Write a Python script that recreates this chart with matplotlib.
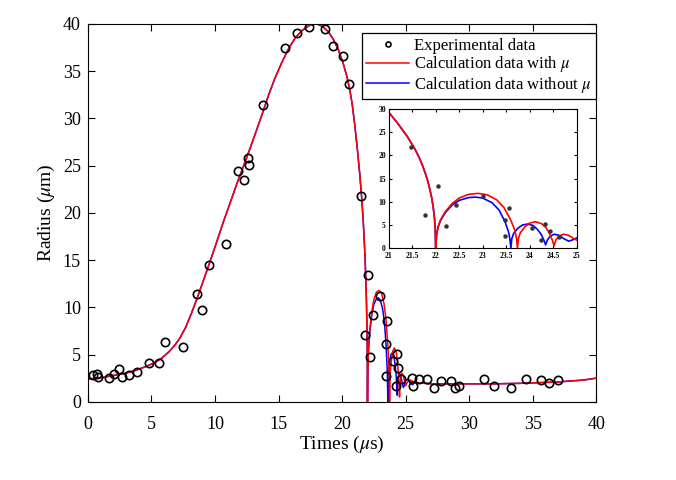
import matplotlib
matplotlib.use("Agg")
import matplotlib.pyplot as plt

plt.rcParams['font.family'] = ['Liberation Serif', 'DejaVu Serif']
plt.rcParams['mathtext.fontset'] = 'stix'

# Experimental data (time in us, radius in um)
exp_t = [0.37, 0.68, 0.81, 1.65, 2.05, 2.41, 2.68, 3.2, 3.86, 4.8, 5.62, 6.1, 7.45,
         8.58, 8.98, 9.55, 10.84, 11.81, 12.28, 12.57, 12.68, 13.78, 15.51, 16.48,
         17.43, 18.66, 19.32, 20.08, 20.55, 21.47, 21.77, 22.05, 22.23, 22.43, 23.0,
         23.48, 23.48, 23.57, 24.04, 24.24, 24.33, 24.43, 24.62, 25.48, 25.6, 26.09,
         26.67, 27.24, 27.8, 28.56, 28.85, 29.2, 31.2, 31.97, 33.31, 34.46, 35.67,
         36.25, 37.0]
exp_r = [2.8, 2.97, 2.62, 2.52, 2.94, 3.43, 2.66, 2.8, 3.18, 4.06, 4.06, 6.33, 5.84,
         11.41, 9.76, 14.45, 16.73, 24.46, 23.45, 25.76, 25.1, 31.43, 37.5, 39.0,
         39.65, 39.44, 37.66, 36.64, 33.6, 21.8, 7.1, 13.4, 4.7, 9.2, 11.2,
         6.1, 2.7, 8.6, 4.3, 1.7, 5.1, 3.6, 2.4, 2.56, 1.71, 2.38,
         2.41, 1.5, 2.17, 2.17, 1.5, 1.64, 2.41, 1.64, 1.5, 2.41, 2.27,
         2.03, 2.27]

# Growth and first collapse (shared by both calculations)
grow_t = [0, 0.7, 1.3, 2.1, 2.9, 3.7, 4.5, 5.2, 5.8, 6.35, 6.85, 7.24, 7.7, 8.1,
          8.58, 9.08, 9.6, 10.13, 10.65, 11.18, 11.7, 12.23, 12.7, 13.15, 13.7,
          14.2, 14.7, 15.25, 15.8, 16.3, 16.85, 17.35, 17.8, 18.13, 18.5, 18.9,
          19.3, 19.7, 20.05, 20.37, 20.6, 20.8, 21.0, 21.2, 21.4, 21.55, 21.65,
          21.72, 21.78, 21.83, 21.88, 21.92, 21.95, 21.975, 21.99, 22.0]
grow_r = [2.4, 2.5, 2.6, 2.8, 3.0, 3.3, 3.7, 4.1, 4.6, 5.25, 6.0, 6.75, 7.9, 9.2,
          10.9, 12.8, 14.8, 16.9, 19.0, 21.0, 23.0, 24.9, 26.6, 28.3, 30.4,
          32.4, 34.2, 35.9, 37.4, 38.5, 39.3, 39.8, 40.0, 39.95, 39.7, 39.2,
          38.4, 37.3, 36.0, 34.5, 33.1, 31.5, 29.3, 26.8, 24.0, 21.5, 19.5,
          17.8, 16.1, 14.5, 12.5, 10.6, 8.6, 6.4, 4.2, 0]

# Rebounds with viscosity (red)
red_t = [22.02, 22.05, 22.1, 22.2, 22.35, 22.5, 22.7, 22.9, 23.1, 23.3, 23.45, 23.6,
         23.68, 23.72, 23.74, 23.76, 23.8, 23.9, 24.0, 24.12, 24.25, 24.35, 24.43,
         24.48, 24.52, 24.56, 24.62, 24.72, 24.82, 24.92, 25.0, 25.15, 25.35, 25.6,
         26.0, 27, 28, 30, 32, 34, 35, 36, 37, 38, 39, 40]
red_r = [3.0, 4.6, 6.0, 7.8, 9.6, 10.8, 11.6, 11.8, 11.5, 10.4, 8.8, 6.0,
         4.0, 2.2, 0.0, 2.0, 3.3, 4.6, 5.4, 5.7, 5.3, 4.4, 3.0,
         1.8, 0.5, 1.8, 2.6, 3.0, 2.8, 2.2, 1.7, 2.1, 2.3, 2.15,
         2.0, 1.9, 1.9, 1.9, 1.9, 1.95, 2.0, 2.05, 2.1, 2.2, 2.3, 2.5]

# Rebounds without viscosity (blue)
blue_t = [22.02, 22.05, 22.1, 22.2, 22.35, 22.5, 22.7, 22.85, 23.0, 23.2, 23.35,
          23.48, 23.55, 23.58, 23.6, 23.62, 23.66, 23.75, 23.85, 23.96, 24.07, 24.17,
          24.25, 24.3, 24.34, 24.38, 24.44, 24.52, 24.62, 24.72, 24.83, 24.92, 25.0,
          25.15, 25.35, 25.55, 25.75, 26.0, 27, 28, 30, 32, 34, 35, 36, 37, 38, 39, 40]
blue_r = [3.0, 4.5, 5.9, 7.6, 9.3, 10.3, 10.9, 11.0, 10.8, 9.8, 8.2,
          5.6, 3.5, 2.0, 0.0, 2.0, 3.2, 4.3, 5.0, 5.2, 4.9, 4.0,
          2.9, 1.8, 0.7, 1.8, 2.6, 3.0, 2.8, 2.1, 1.5, 1.8, 2.2,
          2.4, 2.0, 1.8, 2.1, 2.0, 1.9, 1.9, 1.9, 1.9, 1.95, 2.0, 2.05, 2.1, 2.2, 2.3, 2.5]

calc_red_t = grow_t + red_t
calc_red_r = grow_r + red_r
calc_blue_t = grow_t + blue_t
calc_blue_r = grow_r + blue_r

fig = plt.figure(figsize=(6.76, 4.8), dpi=100)
ax = fig.add_axes([0.130, 0.163, 0.752, 0.787])

ax.plot(calc_blue_t, calc_blue_r, color='blue', lw=1.1, label='Calculation data without $\\mu$')
ax.plot(calc_red_t, calc_red_r, color='red', lw=1.1, label='Calculation data with $\\mu$')
ax.plot(exp_t, exp_r, 'o', mfc='none', mec='black', ms=6, mew=1.2, label='Experimental data')

ax.set_xlim(0, 40)
ax.set_ylim(0, 40)
ax.set_xticks(range(0, 41, 5))
ax.set_yticks(range(0, 41, 5))
ax.tick_params(direction='in', top=True, right=True, length=5, labelsize=13)
ax.tick_params(axis='x', pad=10)
ax.tick_params(axis='y', pad=5)
ax.set_xlabel('Times ($\\mu$s)', fontsize=14, labelpad=1)
ax.set_ylabel('Radius ($\\mu$m)', fontsize=14, labelpad=4)

handles, labels = ax.get_legend_handles_labels()
order = [2, 1, 0]
leg = ax.legend([handles[i] for i in order], [labels[i] for i in order],
                loc='upper right', bbox_to_anchor=(1.0, 0.975), borderaxespad=0,
                fontsize=12, fancybox=False, edgecolor='black', framealpha=1,
                markerscale=0.6, handlelength=2.6, handletextpad=0.3,
                borderpad=0.25, labelspacing=0.05)
leg.get_frame().set_linewidth(0.9)

# Inset
ins = fig.add_axes([0.575, 0.483, 0.278, 0.290])
ins.plot(calc_blue_t, calc_blue_r, color='blue', lw=1.2)
ins.plot(calc_red_t, calc_red_r, color='red', lw=1.2)
ins.plot(exp_t, exp_r, 'o', color='#333333', ms=2.2)
ins.set_xlim(21, 25)
ins.set_ylim(0, 30)
ins.set_xticks([21, 21.5, 22, 22.5, 23, 23.5, 24, 24.5, 25])
ins.set_xticklabels(['21', '21.5', '22', '22.5', '23', '23.5', '24', '24.5', '25'])
ins.set_yticks(range(0, 31, 5))
ins.tick_params(direction='in', top=True, right=True, length=2.5, labelsize=5.5)
ins.tick_params(axis='x', pad=2.5)
ins.tick_params(axis='y', pad=2)
for lab in ins.get_xticklabels() + ins.get_yticklabels():
    lab.set_fontweight('bold')

fig.savefig('out.png', dpi=100)
